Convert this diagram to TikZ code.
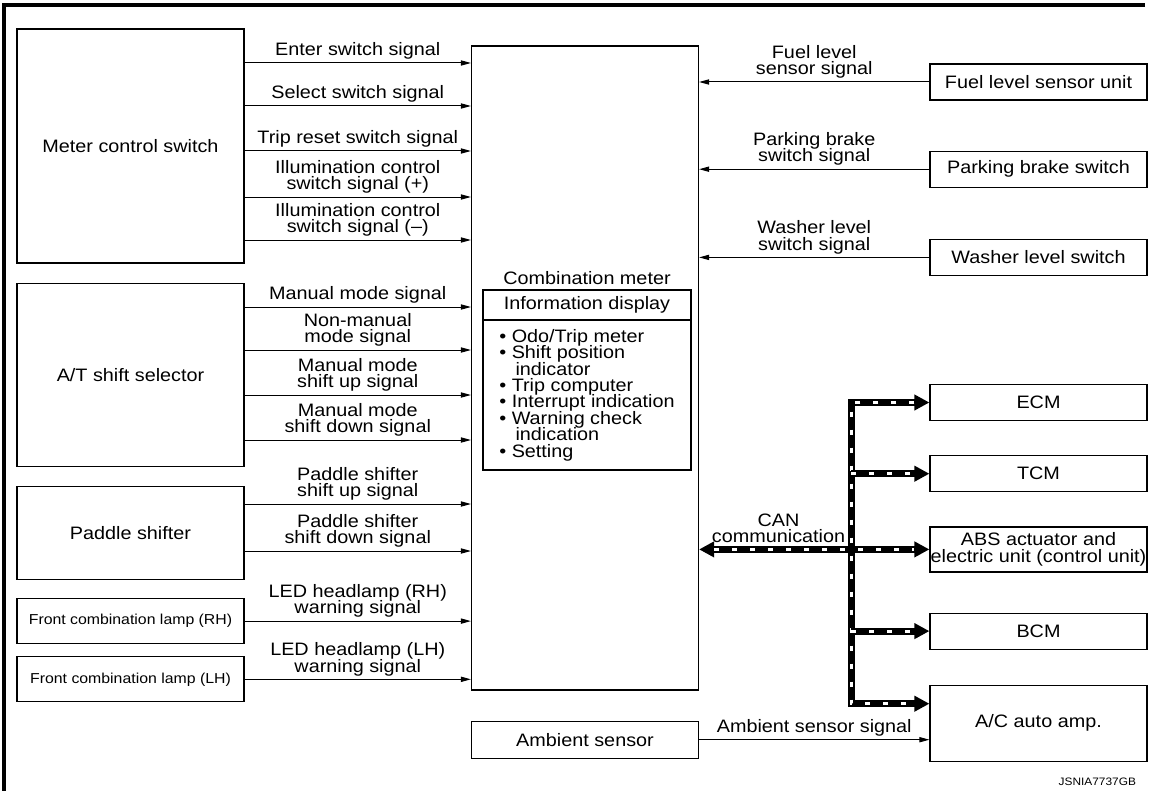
\documentclass[tikz,border=0pt]{standalone}
\usepackage{fontspec}
\setmainfont{Liberation Sans}[FakeStretch=1.1]
\usetikzlibrary{arrows.meta, positioning}
\newcommand{\sidewidth}{113.5pt}
\newcommand{\rightwidth}{108.5pt}
\newcommand{\unitheight}{18pt}
\tikzstyle{unit} = [% a switch, sensor or control unit
  rectangle,
  minimum width=\sidewidth,
  text centered,
  draw=black,
  line width=0.6pt,
  inner sep=1pt
]
\tikzstyle{lamp} = [% small text lamp boxes
  unit,
  minimum height=22.5pt,
  font=\fontsize{7.2}{8}\selectfont
]
\tikzstyle{receiver} = [% units on the right side
  unit,
  minimum width=\rightwidth,
  minimum height=\unitheight
]
\tikzstyle{display} = [% information display
  rectangle,
  minimum width=104pt,
  draw=black,
  line width=0.6pt
]
\tikzstyle{arrow} = [% signal line
  -{Triangle[length=5pt,width=2.6pt]},
  line width=0.5pt
]
\tikzstyle{signal} = [% signal label
  midway,
  above,
  align=center,
  inner sep=1.5pt
]
\tikzstyle{can} = [% CAN communication line, one head
  line width=3.5pt,
  -{Triangle[length=7.5pt,width=7.5pt]},
  postaction={draw=white, -, line width=1.6pt, dash pattern=on 2.5pt off 6.5pt, shorten >=7.5pt}
]
\tikzstyle{canboth} = [% CAN communication line, two heads
  line width=3.5pt,
  {Triangle[length=7.5pt,width=7.5pt]}-{Triangle[length=7.5pt,width=7.5pt]},
  postaction={draw=white, -, line width=1.6pt, dash pattern=on 2.5pt off 6.5pt, shorten >=7.5pt, shorten <=7.5pt}
]
\begin{document}
\lineskiplimit=-\maxdimen
\begin{tikzpicture}[x=0.5pt, y=-0.5pt, font=\fontsize{9}{8.2}\selectfont]
\useasboundingbox (0,0) rectangle (1159,791);

%%% Frame
\draw[line width=1.8pt] (1145,5) -- (4,5) -- (4,791);

%%% Nodes
\node[unit, minimum height=117pt] (meterswitch) at (130.5,146) {Meter control switch};
\node[unit, minimum height=91.5pt] (selector) [below=9.5pt of meterswitch] {A/T shift selector};
\node[unit, minimum height=46.5pt] (paddle) [below=9.5pt of selector] {Paddle shifter};
\node[lamp] (lampRH) [below=9pt of paddle] {Front combination lamp (RH)};
\node[lamp] (lampLH) [below=6pt of lampRH] {Front combination lamp (LH)};

\node[unit, minimum height=322pt] (meter) at (585,368) {};
\node[display, minimum height=12pt] (infohead) at (587,305) {Information display};
\node[display, minimum height=75pt, align=left] (infolist) [below=-0.6pt of infohead]
  {\textbullet\ Odo/Trip meter\\
   \textbullet\ Shift position\\
   \hspace*{0.9em}indicator\\
   \textbullet\ Trip computer\\
   \textbullet\ Interrupt indication\\
   \textbullet\ Warning check\\
   \hspace*{0.9em}indication\\
   \textbullet\ Setting};
\node (metertitle) [above=-1pt of infohead] {Combination meter};
\node[unit, minimum height=18.5pt] (ambient) [below=15pt of meter] {Ambient sensor};

\node[receiver] (fuel) at (1038.5,82) {Fuel level sensor unit};
\node[receiver] (parking) [below=25pt of fuel] {Parking brake switch};
\node[receiver] (washer) [below=25.5pt of parking] {Washer level switch};
\node[receiver] (ecm) at (1038.5,402.5) {ECM};
\node[receiver] (tcm) [below=17pt of ecm] {TCM};
\node[receiver, minimum height=22.5pt, align=center, inner sep=0pt] (abs) [below=17pt of tcm] {ABS actuator and\\electric unit (control unit)};
\node[receiver] (bcm) [below=20pt of abs] {BCM};
\node[receiver, minimum height=38pt] (ac) [below=17.5pt of bcm] {A/C auto amp.};
\node[font=\fontsize{5.4}{6}\selectfont, anchor=east] (code) at (1143,782) {JSNIA7737GB};

\coordinate (bustop) at ([xshift=-39pt]ecm.west);
\coordinate (acin) at ([yshift=-9.5pt]ac.north west);

%%% Arrows
\draw[arrow] (meterswitch.east |- 0,63) -- (meter.west |- 0,63) node[signal] {Enter switch signal};
\draw[arrow] (meterswitch.east |- 0,106) -- (meter.west |- 0,106) node[signal] {Select switch signal};
\draw[arrow] (meterswitch.east |- 0,151) -- (meter.west |- 0,151) node[signal] {Trip reset switch signal};
\draw[arrow] (meterswitch.east |- 0,197) -- (meter.west |- 0,197) node[signal] {Illumination control\\switch signal (+)};
\draw[arrow] (meterswitch.east |- 0,240) -- (meter.west |- 0,240) node[signal] {Illumination control\\switch signal (--)};
\draw[arrow] (selector.east |- 0,307) -- (meter.west |- 0,307) node[signal] {Manual mode signal};
\draw[arrow] (selector.east |- 0,350) -- (meter.west |- 0,350) node[signal] {Non-manual\\mode signal};
\draw[arrow] (selector.east |- 0,395) -- (meter.west |- 0,395) node[signal] {Manual mode\\shift up signal};
\draw[arrow] (selector.east |- 0,440) -- (meter.west |- 0,440) node[signal] {Manual mode\\shift down signal};
\draw[arrow] (paddle.east |- 0,504) -- (meter.west |- 0,504) node[signal] {Paddle shifter\\shift up signal};
\draw[arrow] (paddle.east |- 0,551) -- (meter.west |- 0,551) node[signal] {Paddle shifter\\shift down signal};
\draw[arrow] (lampRH.east) -- (meter.west |- lampRH.east) node[signal] {LED headlamp (RH)\\warning signal};
\draw[arrow] (lampLH.east) -- (meter.west |- lampLH.east) node[signal] {LED headlamp (LH)\\warning signal};

\draw[arrow] (fuel.west) -- (meter.east |- fuel.west) node[signal] {Fuel level\\sensor signal};
\draw[arrow] (parking.west) -- (meter.east |- parking.west) node[signal] {Parking brake\\switch signal};
\draw[arrow] (washer.west) -- (meter.east |- washer.west) node[signal] {Washer level\\switch signal};
\draw[arrow] (ambient.east) -- (ambient.east -| ac.west) node[signal] {Ambient sensor signal};

%%% CAN communication
\draw[canboth] (ecm.west) -- (bustop) -- (bustop |- acin) -- (acin);
\draw[can] (bustop |- tcm.west) -- (tcm.west);
\draw[can] (bustop |- bcm.west) -- (bcm.west);
\draw[canboth] (meter.east |- abs.west) -- (abs.west) node[signal, pos=0.345] {CAN\\communication};

\end{tikzpicture}
\end{document}
